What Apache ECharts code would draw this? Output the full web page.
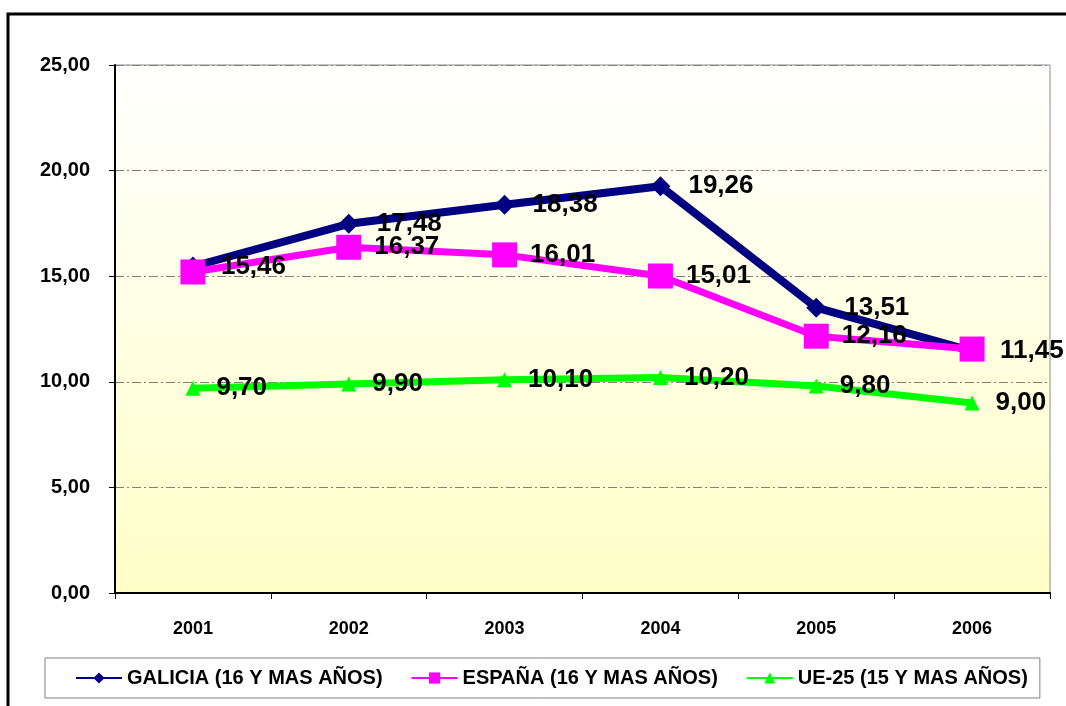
<!DOCTYPE html>
<html>
<head>
<meta charset="utf-8">
<script src="https://cdn.jsdelivr.net/npm/echarts@6/dist/echarts.min.js"></script>
<style>
  html, body { margin: 0; padding: 0; background: #fff; }
  #chart { width: 1066px; height: 706px; }
</style>
</head>
<body>
<div id="chart"></div>
<script>
const years = ['2001', '2002', '2003', '2004', '2005', '2006']
const galicia = [15.46, 17.48, 18.38, 19.26, 13.51, 11.45]
const espana = [15.2, 16.37, 16.01, 15.01, 12.16, 11.55]
const ue25 = [9.7, 9.9, 10.1, 10.2, 9.8, 9.0]
// labels not printed in the original (they overlap)
const espanaHiddenLabels = [0, 5]

const fmt = v => v.toFixed(2).replace('.', ',')

const chart = echarts.init(document.getElementById('chart'))

const labelStyle = dist => ({
  show: true,
  position: 'right',
  distance: dist,
  color: '#000',
  fontSize: 26,
  fontWeight: 'bold',
  fontFamily: 'Liberation Sans',
  formatter: p => fmt(p.value)
})

const option = {
  animation: false,
  graphic: [{
    type: 'rect',
    shape: { x: 8, y: 14, width: 1100, height: 760 },
    style: { fill: 'none', stroke: '#000', lineWidth: 3 },
    z: -1
  }],
  grid: {
    left: 115,
    right: 16,
    top: 65,
    bottom: 113,
    show: true,
    borderColor: '#8c8c8c',
    borderWidth: 1,
    backgroundColor: {
      type: 'linear', x: 0, y: 0, x2: 0, y2: 1,
      colorStops: [
        { offset: 0, color: '#ffffff' },
        { offset: 1, color: '#ffffc8' }
      ]
    }
  },
  legend: {
    left: 45,
    top: 658,
    itemWidth: 46,
    itemHeight: 14,
    itemGap: 28,
    padding: [10, 12, 10, 30],
    borderColor: '#808080',
    borderWidth: 1,
    textStyle: { fontSize: 20, fontWeight: 'bold', color: '#000', fontFamily: 'Liberation Sans' }
  },
  xAxis: {
    type: 'category',
    data: years,
    boundaryGap: true,
    axisLine: { lineStyle: { color: '#000', width: 2 } },
    axisTick: { show: true, length: 6, lineStyle: { color: '#000' } },
    axisLabel: { margin: 27, fontSize: 18, fontWeight: 'bold', color: '#000', fontFamily: 'Liberation Sans' }
  },
  yAxis: {
    type: 'value',
    min: 0,
    max: 25,
    interval: 5,
    axisLine: { show: true, lineStyle: { color: '#000', width: 2 } },
    axisTick: { show: true, length: 6, lineStyle: { color: '#000' } },
    axisLabel: { margin: 25, fontSize: 20, fontWeight: 'bold', color: '#000', fontFamily: 'Liberation Sans', formatter: v => fmt(v) },
    splitLine: { lineStyle: { color: '#808080', width: 1, type: [9, 3, 2, 3] } }
  },
  series: [{
    name: 'GALICIA (16 Y MAS AÑOS)',
    type: 'line',
    data: galicia,
    color: '#000080',
    symbol: 'diamond',
    symbolSize: 20,
    lineStyle: { width: 8 },
    label: labelStyle(18)
  }, {
    name: 'ESPAÑA (16 Y MAS AÑOS)',
    type: 'line',
    data: espana.map((v, i) => espanaHiddenLabels.includes(i) ? { value: v, label: { show: false } } : v),
    color: '#ff00ff',
    symbol: 'rect',
    symbolSize: 25,
    lineStyle: { width: 7 },
    label: labelStyle(13)
  }, {
    name: 'UE-25 (15 Y MAS AÑOS)',
    type: 'line',
    data: ue25,
    color: '#00ff00',
    symbol: 'triangle',
    symbolSize: 15,
    lineStyle: { width: 7 },
    label: labelStyle(16)
  }]
}

chart.setOption(option)
</script>
</body>
</html>
